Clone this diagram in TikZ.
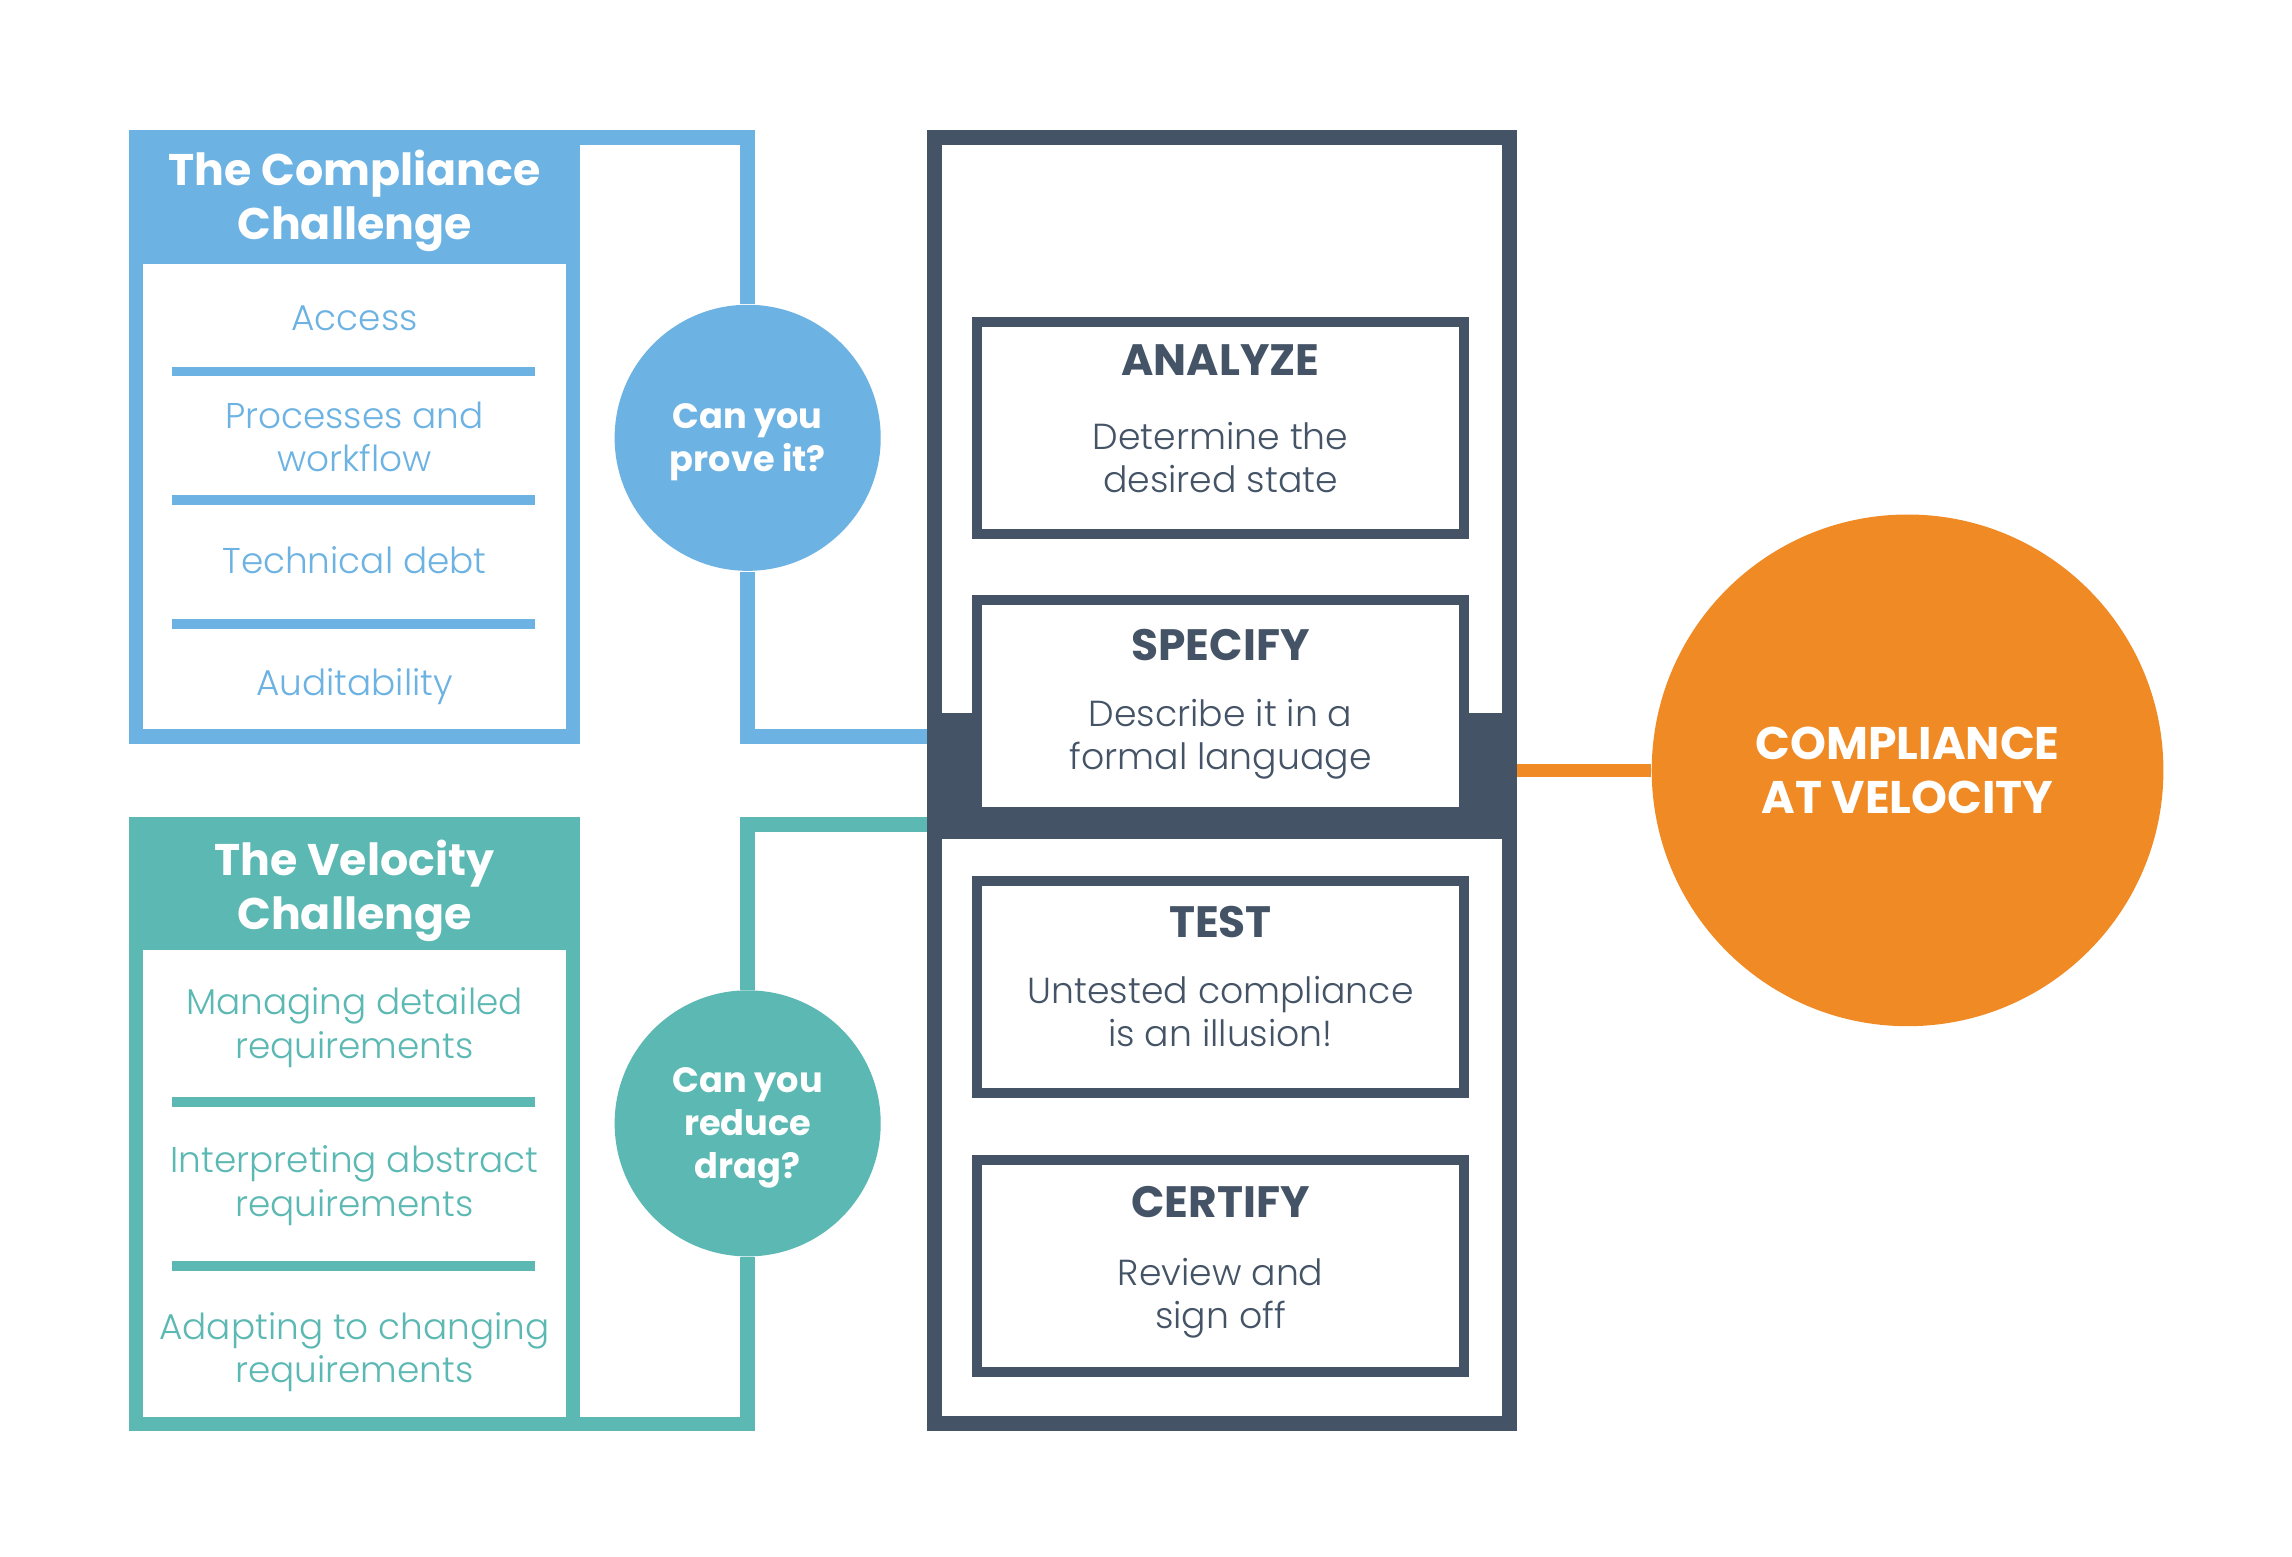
\documentclass[tikz,border=0pt]{standalone}
\usepackage{fontspec}
\setmainfont{Poppins}
\newfontfamily\lightfont{Poppins Light}
\usetikzlibrary{positioning}
\definecolor{cblue}{HTML}{6CB2E2}
\definecolor{cteal}{HTML}{5BB8B3}
\definecolor{cslate}{HTML}{445466}
\definecolor{corange}{HTML}{F08A24}

\begin{document}
\begin{tikzpicture}[x=0.01462cm,y=-0.01462cm,
		challenge/.style={draw=#1,line width=4.14pt,fill=white,minimum width=4.371cm,minimum height=5.994cm,inner sep=0pt,outer sep=0pt},
		head/.style={text=white,align=center,font=\bfseries\fontsize{12.6}{15.3}\selectfont},
		item/.style={text=#1,align=center,font=\lightfont\fontsize{10.2}{12.4}\selectfont},
		rule/.style={draw=#1,line width=2.7pt},
		ask/.style={circle,fill=#1,minimum size=2.661cm,inner sep=0pt},
		asktext/.style={text=white,align=center,font=\bfseries\fontsize{10}{12.3}\selectfont},
		link/.style={draw=#1,line width=4.14pt},
		flow/.style={draw=cslate,line width=4.25pt,fill=white,minimum width=5.754cm,minimum height=12.86cm,inner sep=0pt,outer sep=0pt},
		stepbox/.style={draw=cslate,line width=2.82pt,fill=white,minimum width=4.871cm,minimum height=2.12cm,inner sep=0pt,outer sep=0pt},
		steptitle/.style={text=cslate,font=\bfseries\fontsize{12.5}{15}\selectfont},
		stepbody/.style={text=cslate,align=center,font=\lightfont\fontsize{10.3}{12.2}\selectfont},
		goal/.style={circle,fill=corange,minimum size=5.117cm,inner sep=0pt,text=white,align=center,font=\bfseries\fontsize{13}{15.3}\selectfont}]
				
				\useasboundingbox (0,0) rectangle (1568,1065);
				
				\node[challenge=cblue] (cc) at (242.5,299) {};
				\fill[cblue] (cc.north west) rectangle (cc.east |- 0,180.5);
				\node[head] (ccT) at (242.5,137.5) {The Compliance\\Challenge};
				\node[item=cblue] (cc1) at (242.5,218) {Access};
				\node[item=cblue] (cc2) at (242.5,299) {Processes and\\workflow};
				\node[item=cblue] (cc3) at (242.5,383) {Technical debt};
				\node[item=cblue] (cc4) at (242.5,470) {Auditability};
				\draw[rule=cblue] (118,254) -- (366,254);
				\draw[rule=cblue] (118,342) -- (366,342);
				\draw[rule=cblue] (118,427) -- (366,427);
				
				\node[challenge=cteal] (vc) at (242.5,769) {};
				\fill[cteal] (vc.north west) rectangle (vc.east |- 0,650);
				\node[head] (vcT) at (242.5,609.5) {The Velocity\\Challenge};
				\node[item=cteal] (vc1) at (242.5,703) {Managing detailed\\requirements};
				\node[item=cteal] (vc2) at (242.5,811) {Interpreting abstract\\requirements};
				\node[item=cteal] (vc3) at (242.5,925) {Adapting to changing\\requirements};
				\draw[rule=cteal] (118,754) -- (366,754);
				\draw[rule=cteal] (118,866) -- (366,866);
				
				\node[flow] (flow) at (836,534) {};
				\fill[cslate] (flow.west |- 0,488) rectangle (flow.east |- 0,574);
				
				\node[stepbox] (ana) at (835,293) {};
				\node[steptitle] (anaT) at (835,246) {ANALYZE};
				\node[stepbody] (anaB) at (835,313) {Determine the\\desired state};
				
				\node[stepbox] (spec) at (835,483) {};
				\node[steptitle] (specT) at (835,441) {SPECIFY};
				\node[stepbody] (specB) at (835,506) {Describe it in a\\formal language};
				
				\node[stepbox] (test) at (835,675.5) {};
				\node[steptitle] (testT) at (835,631) {TEST};
				\node[stepbody] (testB) at (835,692) {Untested compliance\\is an illusion!};
				
				\node[stepbox] (cert) at (835,866) {};
				\node[steptitle] (certT) at (835,822) {CERTIFY};
				\node[stepbody] (certB) at (835,888) {Review and\\sign off};
				
				\node[ask=cblue] (q1) at (511.5,299.5) {};
				\node[asktext] (q1T) at (511.5,302.5) {Can you\\prove it?};
				\node[ask=cteal] (q2) at (511.5,768.5) {};
				\node[asktext] (q2T) at (511.5,771.5) {Can you\\reduce\\drag?};
				\node[goal] (cv) at (1305,527) {COMPLIANCE\\AT VELOCITY};
				
				\draw[link=cblue] (cc.north east) -| (q1.north);
				\draw[link=cblue,shorten >=2.1pt] (q1.south) |- (flow.west |- cc.south);
				\draw[link=cteal,shorten <=2.1pt] (flow.west |- vc.north) -| (q2.north);
				\draw[link=cteal] (q2.south) |- (vc.south east);
				\draw[link=corange,line width=3.73pt,shorten <=2.1pt] (flow.east |- cv.west) -- (cv.west);
				
			\end{tikzpicture}
\end{document}
